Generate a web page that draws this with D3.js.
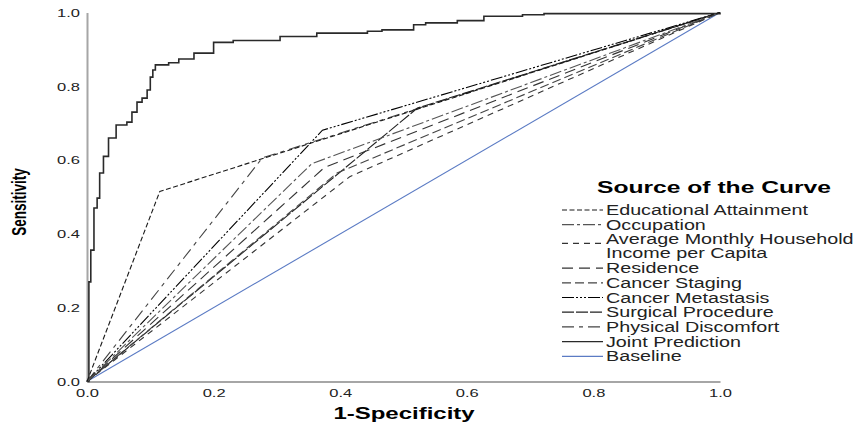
<!DOCTYPE html>
<html>
<head>
<meta charset="utf-8">
<script src="https://cdnjs.cloudflare.com/ajax/libs/d3/7.8.5/d3.min.js"></script>
<style>
  body { margin: 0; background: #fff; }
  text { font-family: "Liberation Sans", Arial, sans-serif; }
</style>
</head>
<body>
<svg id="chart" width="858" height="430"></svg>
<script>
/** ROC points (1-specificity, sensitivity) */
var educationFpr = [0, 0.115, 1],
    educationTpr = [0, 0.515, 1];
var occupationFpr = [0, 0.355, 1],
    occupationTpr = [0, 0.59, 1];
var incomeFpr = [0, 0.415, 1],
    incomeTpr = [0, 0.555, 1];
var residenceFpr = [0, 0.375, 1],
    residenceTpr = [0, 0.58, 1];
var stagingFpr = [0, 0.395, 1],
    stagingTpr = [0, 0.565, 1];
var metastasisFpr = [0, 0.372, 1],
    metastasisTpr = [0, 0.681, 1];
var surgicalFpr = [0, 0.522, 1],
    surgicalTpr = [0, 0.741, 1];
var discomfortFpr = [0, 0.277, 1],
    discomfortTpr = [0, 0.606, 1];
var baselineFpr = [0, 1],
    baselineTpr = [0, 1];

/** Joint prediction staircase corners */
var jointFpr = [0, 0.003, 0.006, 0.011, 0.016, 0.02, 0.026, 0.034, 0.046, 0.063, 0.071,
    0.079, 0.087, 0.095, 0.1, 0.104, 0.108, 0.129, 0.145, 0.169, 0.2, 0.231, 0.305,
    0.363, 0.443, 0.466, 0.516, 0.535, 0.585, 0.627, 0.688, 0.722, 1];
var jointTpr = [0, 0.27, 0.356, 0.47, 0.497, 0.565, 0.61, 0.66, 0.695, 0.703, 0.73,
    0.757, 0.768, 0.79, 0.825, 0.844, 0.858, 0.864, 0.874, 0.89, 0.919, 0.924, 0.935,
    0.944, 0.949, 0.953, 0.967, 0.972, 0.978, 0.99, 0.994, 0.997, 1];

var tickValues = [0, 0.2, 0.4, 0.6, 0.8, 1.0];
var legendTitle = "Source of the Curve";

/** Curve list in legend order */
var curves = [
  {name: ["Educational Attainment"], fpr: educationFpr, tpr: educationTpr, color: "#1a1a1a", dash: "5,2.5"},
  {name: ["Occupation"], fpr: occupationFpr, tpr: occupationTpr, color: "#555", dash: "12,3,3,3"},
  {name: ["Average Monthly Household", "Income per Capita"], fpr: incomeFpr, tpr: incomeTpr, color: "#333", dash: "6,5"},
  {name: ["Residence"], fpr: residenceFpr, tpr: residenceTpr, color: "#333", dash: "11,6"},
  {name: ["Cancer Staging"], fpr: stagingFpr, tpr: stagingTpr, color: "#444", dash: "9,4"},
  {name: ["Cancer Metastasis"], fpr: metastasisFpr, tpr: metastasisTpr, color: "#000", dash: "12,2,2,2,2,2,2,2"},
  {name: ["Surgical Procedure"], fpr: surgicalFpr, tpr: surgicalTpr, color: "#222", dash: "12,2"},
  {name: ["Physical Discomfort"], fpr: discomfortFpr, tpr: discomfortTpr, color: "#444", dash: "12,5,4,5"},
  {name: ["Joint Prediction"], fpr: jointFpr, tpr: jointTpr, color: "#2a2a2a", dash: null, step: true},
  {name: ["Baseline"], fpr: baselineFpr, tpr: baselineTpr, color: "#5b7bc4", dash: null}
];

// the picture is stretched sideways, so text gets a horizontal scale
var textStretch = 1.5,
    legendStretch = 1.41;

var svg = d3.select("#chart");

var xScale = d3.scaleLinear().domain([0, 1]).range([87, 720]);
var yScale = d3.scaleLinear().domain([0, 1]).range([381.5, 12.5]);

// Axes
var xAxis = d3.axisBottom(xScale).tickValues(tickValues)
    .tickFormat(d3.format(".1f")).tickSize(0).tickPadding(0);
var yAxis = d3.axisLeft(yScale).tickValues(tickValues)
    .tickFormat(d3.format(".1f")).tickSize(0).tickPadding(0);

var gx = svg.append("g").attr("transform", "translate(0," + yScale(0) + ")").call(xAxis);
var gy = svg.append("g").attr("transform", "translate(" + xScale(0) + ",0)").call(yAxis);

[gx, gy].forEach(function(g) {
  g.select(".domain").attr("stroke", "#a6a6a6").attr("stroke-width", 2);
  g.selectAll(".tick text")
    .attr("font-family", "Liberation Sans, Arial, sans-serif")
    .attr("font-size", 11)
    .attr("fill", "#222");
});
gx.selectAll(".tick text").attr("y", 0).attr("dy", null)
  .attr("transform", "translate(0,15) scale(" + textStretch + ",1)");
gy.selectAll(".tick text").attr("x", 0).attr("dy", "0.35em")
  .attr("transform", "translate(-7,0) scale(" + textStretch + ",1)");

// Axis titles
svg.append("text")
  .attr("transform", "translate(404,419) scale(" + textStretch + ",1)")
  .attr("text-anchor", "middle")
  .attr("font-weight", "bold")
  .attr("font-size", 16)
  .text("1-Specificity");

svg.append("text")
  .attr("transform", "translate(26,202) scale(" + textStretch + ",1) rotate(-90)")
  .attr("text-anchor", "middle")
  .attr("font-weight", "bold")
  .attr("font-size", 13.5)
  .text("Sensitivity");

// Curves
var line = d3.line()
  .x(function(d) { return xScale(d[0]); })
  .y(function(d) { return yScale(d[1]); });

var stepLine = d3.line()
  .x(function(d) { return xScale(d[0]); })
  .y(function(d) { return yScale(d[1]); })
  .curve(d3.curveStepAfter);

svg.append("g").selectAll("path")
  .data(curves.slice().reverse())
  .enter().append("path")
  .attr("d", function(d) {
    var pts = d.fpr.map(function(f, i) { return [f, d.tpr[i]]; });
    return d.step ? stepLine(pts) : line(pts);
  })
  .attr("fill", "none")
  .attr("stroke", function(d) { return d.color; })
  .attr("stroke-width", function(d) { return d.step ? 1.6 : 1.1; })
  .attr("stroke-dasharray", function(d) { return d.dash; });

// Legend
svg.append("text")
  .attr("transform", "translate(714,193) scale(" + 1.45 + ",1)")
  .attr("text-anchor", "middle")
  .attr("font-weight", "bold")
  .attr("font-size", 17)
  .text(legendTitle);

var legendY = 215;
var rowStep = 14.7;
var legend = svg.append("g");

curves.forEach(function(c) {
  var rows = c.name.length;
  var sampleY = rows > 1 ? legendY - 1 : legendY - 5;
  legend.append("line")
    .attr("x1", 562).attr("x2", 603)
    .attr("y1", sampleY).attr("y2", sampleY)
    .attr("stroke", c.color)
    .attr("stroke-width", 1.2)
    .attr("stroke-dasharray", c.dash);
  c.name.forEach(function(t, i) {
    legend.append("text")
      .attr("transform", "translate(606," + (legendY + i * 14) + ") scale(" + legendStretch + ",1)")
      .attr("font-size", 14)
      .attr("fill", "#222")
      .text(t);
  });
  legendY += (rows - 1) * 14 + rowStep;
});
</script>
</body>
</html>
